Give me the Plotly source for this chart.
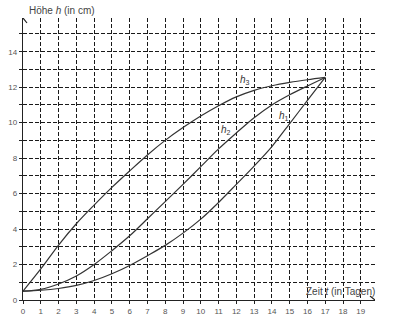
import plotly.graph_objects as go

# Zeit t (in Tagen)
t_days = list(range(0, 18))
# Höhe h (in cm)
h1 = [0.5, 0.55, 0.65, 0.82, 1.1, 1.48, 1.95, 2.5, 3.08, 3.77, 4.56, 5.5, 6.52, 7.55, 8.65, 9.95, 11.25, 12.55]
h2 = [0.5, 0.6, 0.9, 1.35, 2.0, 2.78, 3.62, 4.58, 5.55, 6.52, 7.52, 8.52, 9.42, 10.28, 11.0, 11.57, 12.07, 12.55]
h3 = [0.5, 1.75, 3.1, 4.3, 5.35, 6.35, 7.28, 8.18, 9.0, 9.72, 10.37, 10.95, 11.45, 11.82, 12.08, 12.27, 12.42, 12.55]

series = [("h1", h1), ("h2", h2), ("h3", h3)]
# label positions (t, h) for each curve label
label_pos = {"h1": (14.7, 10.4), "h2": (11.4, 9.6), "h3": (12.5, 12.4)}
label_text = {"h1": "<i>h</i><sub>1</sub>", "h2": "<i>h</i><sub>2</sub>", "h3": "<i>h</i><sub>3</sub>"}

x_ticks = list(range(0, 20))
y_ticks = list(range(0, 15, 2))

FONT = "Liberation Sans, Arial, sans-serif"
GRID = "#1a1a1a"

fig = go.Figure()
for name, vals in series:
    fig.add_trace(go.Scatter(x=t_days, y=vals, mode="lines", name=name,
                             line=dict(color="#333333", width=1.2, shape="spline", smoothing=0.9),
                             showlegend=False, hoverinfo="skip"))

for name, _ in series:
    lx, ly = label_pos[name]
    fig.add_annotation(x=lx, y=ly, text=label_text[name], showarrow=False,
                       font=dict(family=FONT, size=10, color="#333"))

fig.update_layout(
    width=400, height=316,
    margin=dict(l=23, r=25, t=18, b=16),
    paper_bgcolor="white", plot_bgcolor="white",
    font=dict(family=FONT, size=8, color="#555"),
)
fig.update_xaxes(range=[0, 19.8], tickvals=x_ticks, ticktext=[str(v) for v in x_ticks],
                 automargin=False,
                 showgrid=True, gridcolor=GRID, gridwidth=1, griddash="4px,2px",
                 zeroline=False, showline=True, linecolor="#222", linewidth=1.3,
                 ticks="outside", ticklen=3, tickcolor="#222", tickfont=dict(size=8, color="#555"))
fig.update_yaxes(range=[0, 15.9], tickvals=y_ticks, ticktext=[str(v) for v in y_ticks],
                 automargin=False,
                 showgrid=True, gridcolor=GRID, gridwidth=1, griddash="4px,2px",
                 minor=dict(dtick=1, tick0=0, showgrid=True, gridcolor=GRID, gridwidth=1,
                            griddash="4px,2px", ticks="outside", ticklen=3, tickcolor="#222"),
                 zeroline=False, showline=True, linecolor="#222", linewidth=1.3,
                 ticks="outside", ticklen=3, tickcolor="#222", tickfont=dict(size=8, color="#555"))

# axis arrow heads (chevrons) in pixel units anchored at axis ends
fig.add_shape(type="path", xref="x", yref="y", xsizemode="pixel", ysizemode="pixel",
              xanchor=0, yanchor=15.9, path="M -4,-5 L 0,0 L 4,-5",
              line=dict(color="#222", width=1.2))
fig.add_shape(type="path", xref="x", yref="y", xsizemode="pixel", ysizemode="pixel",
              xanchor=19.8, yanchor=0, path="M -5,4 L 0,0 L -5,-4",
              line=dict(color="#222", width=1.2))

fig.add_annotation(xref="paper", yref="paper", x=0.012, y=1.0, yshift=8, xanchor="left", yanchor="middle",
                   text="Höhe <i>h</i> (in cm)", showarrow=False,
                   font=dict(family=FONT, size=10, color="#444"))
fig.add_annotation(xref="paper", yref="paper", x=1.005, y=0, yshift=9, xanchor="right", yanchor="middle",
                   text="Zeit <i>t</i> (in Tagen)", showarrow=False,
                   font=dict(family=FONT, size=10, color="#444"))

fig.write_html("out.html")
